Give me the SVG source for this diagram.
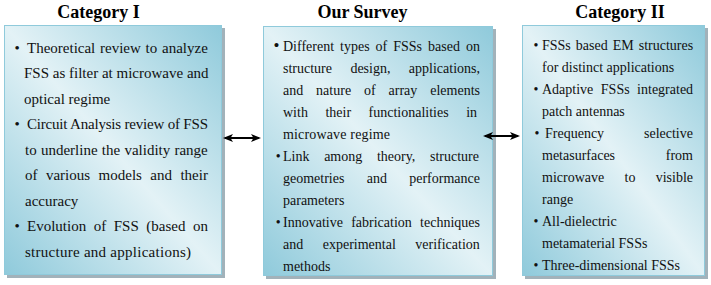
<svg xmlns="http://www.w3.org/2000/svg" width="711" height="285" viewBox="0 0 711 285">
<style>
.bg{fill:#ffffff}
.box{fill:url(#shade);stroke:#8fcadb;stroke-width:1}
.shadow{fill:#a2b2ba}
.h{font-family:"Liberation Serif","Times New Roman",serif;font-size:18px;font-weight:bold;fill:#000;text-anchor:middle}
.t1{font-family:"Liberation Serif","Times New Roman",serif;font-size:15px;fill:#111}
.t2{font-family:"Liberation Serif","Times New Roman",serif;font-size:14px;fill:#111}
.conn{stroke:#000;stroke-width:2.2;fill:none;marker-start:url(#ah);marker-end:url(#ah)}
</style>
<defs>
<linearGradient id="shade" x1="1" y1="0" x2="0" y2="1">
<stop offset="0" stop-color="#8fcadb"/>
<stop offset="0.5" stop-color="#e3f2f6"/>
<stop offset="1" stop-color="#8fcadb"/>
</linearGradient>
<marker id="ah" viewBox="0 0 10 10" refX="8" refY="5" markerWidth="10" markerHeight="10" markerUnits="userSpaceOnUse" orient="auto-start-reverse">
<path d="M0,1 L10,5 L0,9 L2.5,5 z" fill="#000"/>
</marker>
</defs>
<rect class="bg" x="0" y="0" width="711" height="285"/>

<g id="node-category-1">
<text class="h" x="98.5" y="18">Category I</text>
<rect class="shadow" x="7" y="28" width="218" height="250"/>
<rect class="box" x="4.5" y="25.5" width="217" height="249"/>
<text class="t1" y="52.5"><tspan x="14.4">•</tspan><tspan x="27" style="word-spacing:1px">Theoretical review to analyze</tspan></text>
<text class="t1" x="24" y="78">FSS as filter at microwave and</text>
<text class="t1" x="24" y="103.5">optical regime</text>
<text class="t1" y="129"><tspan x="14.4">•</tspan><tspan x="27" textLength="181" lengthAdjust="spacing">Circuit Analysis review of FSS</tspan></text>
<text class="t1" x="25" y="154.5" style="word-spacing:0.5px">to underline the validity range</text>
<text class="t1" x="25" y="180" style="word-spacing:4.7px">of various models and their</text>
<text class="t1" x="25" y="205.5">accuracy</text>
<text class="t1" y="231"><tspan x="14.4">•</tspan><tspan x="27" style="word-spacing:3.8px">Evolution of FSS (based on</tspan></text>
<text class="t1" x="25" y="256.5" textLength="166" lengthAdjust="spacing">structure and applications)</text>
</g>

<g id="node-our-survey">
<text class="h" x="362.5" y="18">Our Survey</text>
<rect class="shadow" x="266" y="29" width="230" height="250"/>
<rect class="box" x="263.5" y="26.5" width="229" height="249"/>
<text class="t2" y="50.5"><tspan x="273.5" style="font-size:17px">•</tspan><tspan x="283" style="word-spacing:2.5px">Different types of FSSs based on</tspan></text>
<text class="t2" x="283" y="72.5" style="word-spacing:14.9px">structure design, applications,</text>
<text class="t2" x="283" y="94.5" style="word-spacing:9.4px">and nature of array elements</text>
<text class="t2" x="283" y="116.5" style="word-spacing:14px">with their functionalities in</text>
<text class="t2" x="283" y="138.5" textLength="107" lengthAdjust="spacing">microwave regime</text>
<text class="t2" y="160.5"><tspan x="275.8">•</tspan><tspan x="283" style="word-spacing:11.2px">Link among theory, structure</tspan></text>
<text class="t2" x="283" y="182.5" style="word-spacing:18.8px">geometries and performance</text>
<text class="t2" x="283" y="204.5">parameters</text>
<text class="t2" y="226.5"><tspan x="275.8">•</tspan><tspan x="283" style="word-spacing:4.8px">Innovative fabrication techniques</tspan></text>
<text class="t2" x="283" y="248.5" style="word-spacing:16px">and experimental verification</text>
<text class="t2" x="283" y="270.5">methods</text>
</g>

<g id="node-category-2">
<text class="h" x="620" y="18">Category II</text>
<rect class="shadow" x="525" y="28" width="183" height="251"/>
<rect class="box" x="522.5" y="25.5" width="182" height="250"/>
<text class="t2" y="49.5"><tspan x="533.6">•</tspan><tspan x="542" style="word-spacing:1.5px">FSSs based EM structures</tspan></text>
<text class="t2" x="542" y="71.5">for distinct applications</text>
<text class="t2" y="93.5"><tspan x="533.6">•</tspan><tspan x="542" style="word-spacing:4px">Adaptive FSSs integrated</tspan></text>
<text class="t2" x="542" y="115.5">patch antennas</text>
<text class="t2" y="137.5"><tspan x="534.4">•</tspan><tspan x="545" style="word-spacing:36.4px">Frequency selective</tspan></text>
<text class="t2" x="542" y="159.5" style="word-spacing:47.2px">metasurfaces from</text>
<text class="t2" x="542" y="181.5" style="word-spacing:16.8px">microwave to visible</text>
<text class="t2" x="542" y="203.5">range</text>
<text class="t2" y="225.5"><tspan x="533.6">•</tspan><tspan x="542">All-dielectric</tspan></text>
<text class="t2" x="542" y="247.5">metamaterial FSSs</text>
<text class="t2" y="269.5"><tspan x="533.6">•</tspan><tspan x="542">Three-dimensional FSSs</tspan></text>
</g>

<g id="connectors">
<path class="conn" d="M225,138 H259"/>
<path class="conn" d="M485,136 H518"/>
</g>
</svg>
